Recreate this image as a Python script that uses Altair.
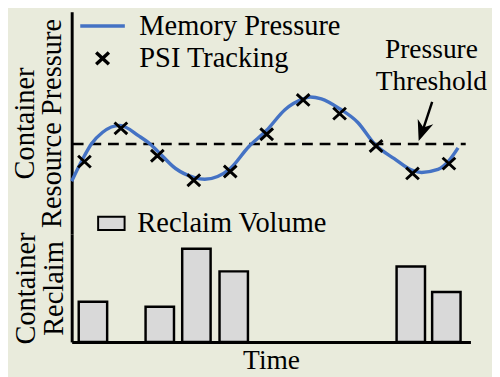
import altair as alt
import pandas as pd

FONT = "Liberation Serif"
BG = "#e9ebdc"
BLUE = "#4472c4"
BAR_FILL = "#d9d9d9"
FS = 29
FS_SMALL = 28

# ---- data ----
curve_time = [-0.35, 0, 0.19, 0.5, 0.97, 1.5, 1.8, 2, 2.5, 3, 3.3, 4, 4.5, 5, 5.5, 6, 6.2, 6.5, 7, 7.5, 7.96, 8.5, 9, 9.25, 9.7, 10, 10.25]
curve_pressure = [27, 40, 46, 52, 55.5, 50, 46, 42.5, 33.5, 29, 28, 33.5, 44.5, 53, 63.5, 69, 70, 69, 64, 57, 46, 38.5, 32.5, 31.5, 33, 37.5, 44]

psi_time = [0, 1, 2, 3, 4, 5, 6, 7, 8, 9, 10]
psi_pressure = [37, 54, 40, 27.5, 32, 51, 68.5, 61.5, 45, 31, 36]

bar_time = [0.11, 1.99, 3.02, 4.07, 9.05, 10.05]
bar_volume = [4.1, 3.6, 9.5, 7.2, 7.7, 5.1]

threshold_value = [46]
threshold_start = [-0.32]
threshold_end = [10.46]

note_time = [9.52]
note_pressure = [90]
note_text = ["Pressure\nThreshold"]

arrow_tail_time = [9.54]
arrow_tail_pressure = [67.5]
arrow_neck_time = [9.3]
arrow_neck_pressure = [54]
arrow_tip_time = [9.17]
arrow_tip_pressure = [47.5]

series_names = ["Memory Pressure", "PSI Tracking"]
series_colors = [BLUE, "black"]

X_PATH = "M-1,-0.92L1,0.92M1,-0.92L-1,0.92"
LINE_PATH = "M-3.5,0H3.5"
HEAD_PATH = "M0,0L-0.6,-1.5L0,-1.05L0.6,-1.5Z"
RECT_PATH = "M-1,-0.5H1V0.5H-1Z"

curve_df = pd.DataFrame({"time": curve_time, "pressure": curve_pressure, "series": series_names[0]})
psi_df = pd.DataFrame({"time": psi_time, "pressure": psi_pressure, "series": series_names[1]})
bar_df = pd.DataFrame({"time": bar_time, "volume": bar_volume, "bar_series": "Reclaim Volume"})
thr_df = pd.DataFrame({"start": threshold_start, "end": threshold_end, "pressure": threshold_value})
note_df = pd.DataFrame({"time": note_time, "pressure": note_pressure, "label": note_text})
shaft_df = pd.DataFrame({"time": arrow_tail_time, "time2": arrow_neck_time,
                         "pressure": arrow_tail_pressure, "pressure2": arrow_neck_pressure})
head_df = pd.DataFrame({"time": arrow_tip_time, "pressure": arrow_tip_pressure})

x_scale = alt.Scale(domain=[-0.35, 10.59], nice=False, zero=False)
y_top = alt.Scale(domain=[0, 113.5], nice=False, zero=False)
y_bot = alt.Scale(domain=[0, 11], nice=False)

axis_style = dict(domainColor="black", domainWidth=3, ticks=False, labels=False, grid=False,
                  titleFont=FONT, titleFontWeight="normal", titleColor="black")

y_top_axis = alt.Axis(title=["Container", "Resource Pressure"], titlePadding=5, titleLineHeight=28,
                      titleFontSize=FS, **axis_style)
y_bot_axis = alt.Axis(title=["Container", "Reclaim"], titlePadding=3, titleLineHeight=29,
                      titleFontSize=FS, **axis_style)

X_top = lambda f: alt.X(f, type="quantitative", scale=x_scale, axis=None)
Y_top = lambda f: alt.Y(f, type="quantitative", scale=y_top, axis=y_top_axis)

top_legend = alt.Legend(
    title=None, orient="none", legendX=17, legendY=0, padding=0, rowPadding=3,
    labelFont=FONT, labelFontSize=FS, labelColor="black", labelLimit=400, labelOffset=23,
    symbolSize=169, symbolStrokeWidth=3.5, symbolFillColor="transparent", symbolOpacity=1,
)
stroke_scale = alt.Scale(domain=series_names, range=series_colors)
shape_scale = alt.Scale(domain=series_names, range=[LINE_PATH, X_PATH])

line = alt.Chart(curve_df).mark_line(strokeWidth=3.5, interpolate="monotone").encode(
    x=X_top("time"),
    y=Y_top("pressure"),
    stroke=alt.Stroke("series:N", scale=stroke_scale, legend=top_legend),
)

points = alt.Chart(psi_df).mark_point(filled=False, strokeWidth=3, size=169, opacity=1).encode(
    x=X_top("time"),
    y=Y_top("pressure"),
    stroke=alt.Stroke("series:N", scale=stroke_scale, legend=top_legend),
    shape=alt.Shape("series:N", scale=shape_scale, legend=top_legend),
)

threshold = alt.Chart(thr_df).mark_rule(strokeDash=[11, 7], strokeWidth=2.5, color="black").encode(
    x=X_top("start"), x2="end", y=Y_top("pressure"),
)

note = alt.Chart(note_df).mark_text(font=FONT, fontSize=FS_SMALL, align="center", baseline="alphabetic",
                                    lineBreak="\n", lineHeight=33, color="black").encode(
    x=X_top("time"), y=Y_top("pressure"), text="label:N",
)

shaft = alt.Chart(shaft_df).mark_rule(strokeWidth=2.5, color="black").encode(
    x=X_top("time"), x2="time2", y=Y_top("pressure"), y2="pressure2",
)

head = alt.Chart(head_df).mark_point(shape=HEAD_PATH, filled=True, color="black", size=784,
                                     angle=19.3, opacity=1, strokeWidth=0).encode(
    x=X_top("time"), y=Y_top("pressure"),
)

top = alt.layer(threshold, line, points, note, shaft, head).properties(width=407, height=227)

bars = alt.Chart(bar_df).mark_bar(size=29, stroke="black", strokeWidth=2.5, orient="vertical").encode(
    x=alt.X("time:Q", scale=x_scale, axis=alt.Axis(title="Time", titlePadding=5, titleFontSize=FS_SMALL,
                                                   **axis_style)),
    y=alt.Y("volume:Q", scale=y_bot, axis=y_bot_axis),
    fill=alt.Fill("bar_series:N", scale=alt.Scale(domain=["Reclaim Volume"], range=[BAR_FILL]),
                  legend=alt.Legend(title=None, orient="none", padding=0, labelFont=FONT, labelFontSize=FS,
                                    labelColor="black", labelLimit=400,
                                    symbolType=RECT_PATH, symbolSize=729, symbolStrokeColor="black",
                                    symbolStrokeWidth=2, labelOffset=12, legendX=26, legendY=-25.5)),
).properties(width=407, height=110)

chart = alt.vconcat(top, bars, spacing=0, bounds="flush").resolve_legend(
    stroke="independent", shape="independent", fill="independent"
).resolve_scale(stroke="independent", shape="independent", fill="independent").properties(
    background=BG, padding={"left": 3, "top": 0, "right": 5, "bottom": 0}
).configure(font=FONT).configure_legend(labelFont=FONT, labelFontSize=FS, labelColor="black").configure_view(stroke=None)

chart.save("out.html", embed_options={"renderer": "svg", "actions": False})
